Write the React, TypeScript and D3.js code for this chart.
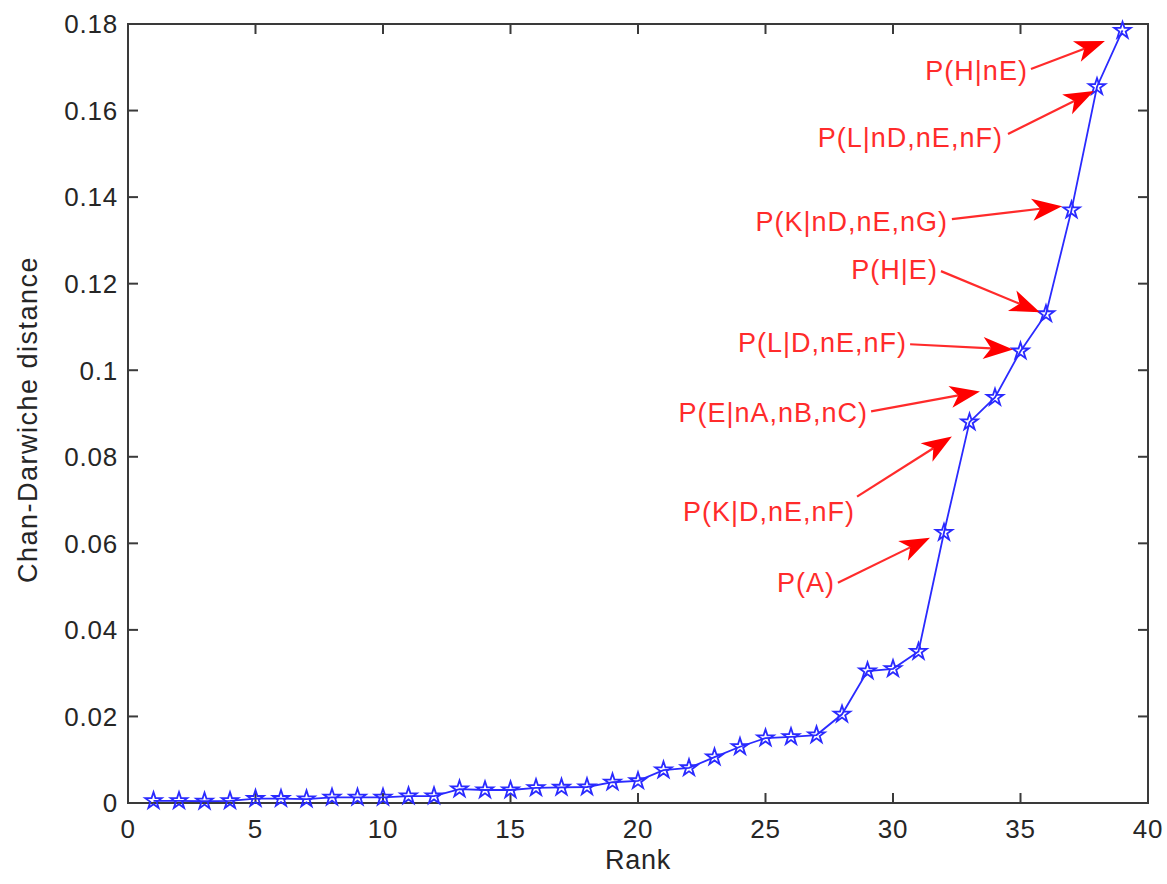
import React from "react";
import * as d3 from "d3";

// rank of each conditional probability and its Chan-Darwiche distance
const ranks = [
  1, 2, 3, 4, 5, 6, 7, 8, 9, 10, 11, 12, 13, 14, 15, 16, 17, 18, 19, 20,
  21, 22, 23, 24, 25, 26, 27, 28, 29, 30, 31, 32, 33, 34, 35, 36, 37, 38, 39,
];
const distances = [
  0.0005, 0.0005, 0.0004, 0.0005, 0.001, 0.001, 0.0009, 0.0013, 0.0013, 0.0013,
  0.0016, 0.0016, 0.0032, 0.003, 0.003, 0.0035, 0.0036, 0.0037, 0.0048, 0.0051,
  0.0076, 0.0081, 0.0106, 0.013, 0.015, 0.0153, 0.0157, 0.0205, 0.0305, 0.031,
  0.035, 0.0625, 0.088, 0.0937, 0.1044, 0.113, 0.137, 0.1655, 0.1785,
];

const xTicks = [0, 5, 10, 15, 20, 25, 30, 35, 40];
const yTicks = [0, 0.02, 0.04, 0.06, 0.08, 0.1, 0.12, 0.14, 0.16, 0.18];

// annotations: text end (rank, value), arrow tail and arrow tip in data units
const noteLabels = [
  "P(H|nE)", "P(L|nD,nE,nF)", "P(K|nD,nE,nG)", "P(H|E)",
  "P(L|D,nE,nF)", "P(E|nA,nB,nC)", "P(K|D,nE,nF)", "P(A)",
];
const noteTextAt = [
  [35.29, 0.1692], [34.31, 0.1539], [32.16, 0.1345], [31.76, 0.1234],
  [30.55, 0.1065], [29.02, 0.0903], [28.51, 0.0673], [27.73, 0.0509],
];
const noteTailAt = [
  [35.41, 0.1696], [34.51, 0.1546], [32.31, 0.1349], [31.88, 0.1229],
  [30.67, 0.106], [29.14, 0.0905], [28.59, 0.0708], [27.84, 0.0509],
];
const noteTipAt = [
  [38.31, 0.1761], [37.88, 0.1645], [36.63, 0.1379], [35.76, 0.1134],
  [34.71, 0.1048], [33.41, 0.0951], [32.31, 0.0847], [31.45, 0.0613],
];

const W = 1167;
const H = 884;
const margin = { top: 24, right: 19, bottom: 81, left: 128 };
const FONT = "'Liberation Sans', Arial, Helvetica, sans-serif";

const App = () => {
  const svgRef = React.useRef<SVGSVGElement>(null);

  React.useEffect(() => {
    const width = W - margin.left - margin.right;
    const height = H - margin.top - margin.bottom;

    const x = d3.scaleLinear().domain([0, 40]).range([0, width]);
    const y = d3.scaleLinear().domain([0, 0.18]).range([height, 0]);

    const svgEl = d3.select(svgRef.current);
    svgEl.selectAll("*").remove();
    svgEl.append("rect").attr("width", W).attr("height", H).attr("fill", "#fff");

    const svg = svgEl
      .append("g")
      .attr("transform", `translate(${margin.left},${margin.top})`);

    const axisColor = "#3a3a3a";
    const textColor = "#262626";
    const tickLen = 10;

    // box
    svg
      .append("rect")
      .attr("width", width)
      .attr("height", height)
      .attr("fill", "none")
      .attr("stroke", axisColor)
      .attr("stroke-width", 2);

    // x ticks (inward, top and bottom) + labels
    xTicks.forEach((t) => {
      svg.append("line")
        .attr("x1", x(t)).attr("x2", x(t))
        .attr("y1", height).attr("y2", height - tickLen)
        .attr("stroke", axisColor).attr("stroke-width", 2);
      svg.append("line")
        .attr("x1", x(t)).attr("x2", x(t))
        .attr("y1", 0).attr("y2", tickLen)
        .attr("stroke", axisColor).attr("stroke-width", 2);
      svg.append("text")
        .attr("x", x(t))
        .attr("y", height + 35)
        .attr("text-anchor", "middle")
        .attr("font-family", FONT)
        .attr("font-size", 26)
        .attr("letter-spacing", 0.8)
        .attr("fill", textColor)
        .text(String(t));
    });

    yTicks.forEach((t) => {
      svg.append("line")
        .attr("x1", 0).attr("x2", tickLen)
        .attr("y1", y(t)).attr("y2", y(t))
        .attr("stroke", axisColor).attr("stroke-width", 2);
      svg.append("line")
        .attr("x1", width).attr("x2", width - tickLen)
        .attr("y1", y(t)).attr("y2", y(t))
        .attr("stroke", axisColor).attr("stroke-width", 2);
      svg.append("text")
        .attr("x", -10)
        .attr("y", y(t))
        .attr("dy", "0.36em")
        .attr("text-anchor", "end")
        .attr("font-family", FONT)
        .attr("font-size", 26)
        .attr("letter-spacing", 0.8)
        .attr("fill", textColor)
        .text(d3.format("~g")(t));
    });

    // axis titles
    svg.append("text")
      .attr("x", width / 2)
      .attr("y", height + 66)
      .attr("text-anchor", "middle")
      .attr("font-family", FONT)
      .attr("font-size", 27)
      .attr("letter-spacing", 0.8)
      .attr("fill", textColor)
      .text("Rank");

    svg.append("text")
      .attr("transform", `translate(${-91},${height / 2 + 6}) rotate(-90)`)
      .attr("text-anchor", "middle")
      .attr("font-family", FONT)
      .attr("font-size", 27)
      .attr("letter-spacing", 1.5)
      .attr("fill", textColor)
      .text("Chan-Darwiche distance");

    // data line + pentagram markers
    const pts = ranks.map((r, i) => [r, distances[i]] as [number, number]);
    const line = d3.line<[number, number]>()
      .x((d) => x(d[0]))
      .y((d) => y(d[1]));

    svg.append("path")
      .datum(pts)
      .attr("fill", "none")
      .attr("stroke", "#2a2aff")
      .attr("stroke-width", 1.8)
      .attr("d", line);

    const star = d3.symbol().type(d3.symbolStar).size(85);
    svg.selectAll(".marker")
      .data(pts)
      .enter()
      .append("path")
      .attr("class", "marker")
      .attr("transform", (d) => `translate(${x(d[0])},${y(d[1])})`)
      .attr("d", star())
      .attr("fill", "none")
      .attr("stroke", "#2a2aff")
      .attr("stroke-width", 1.8);

    // annotations
    const red = "#ff2b2b";
    noteLabels.forEach((label, i) => {
      const [tx, ty] = noteTextAt[i];
      const [sx, sy] = noteTailAt[i];
      const [ex, ey] = noteTipAt[i];
      svg.append("text")
        .attr("x", x(tx))
        .attr("y", y(ty))
        .attr("dy", "0.36em")
        .attr("text-anchor", "end")
        .attr("font-family", FONT)
        .attr("font-size", 27)
        .attr("letter-spacing", 1)
        .attr("fill", red)
        .text(label);

      const x0 = x(sx), y0 = y(sy), x1 = x(ex), y1 = y(ey);
      const ang = Math.atan2(y1 - y0, x1 - x0);
      const L = 30, half = 11, notch = 22;
      const ca = Math.cos(ang), sa = Math.sin(ang);
      const p = (a: number, b: number) => [x1 + a * ca - b * sa, y1 + a * sa + b * ca];
      const back = p(-notch, 0);

      svg.append("line")
        .attr("x1", x0).attr("y1", y0)
        .attr("x2", back[0]).attr("y2", back[1])
        .attr("stroke", red)
        .attr("stroke-width", 2.2);

      const head = [p(0, 0), p(-L, -half), back, p(-L, half)];
      svg.append("path")
        .attr("d", "M" + head.map((q) => q.join(",")).join("L") + "Z")
        .attr("fill", "#ff0000");
    });
  }, []);

  return (
    <svg
      ref={svgRef}
      width={W}
      height={H}
      style={{ position: "absolute", left: 0, top: 0 }}
    />
  );
};

export default App;
